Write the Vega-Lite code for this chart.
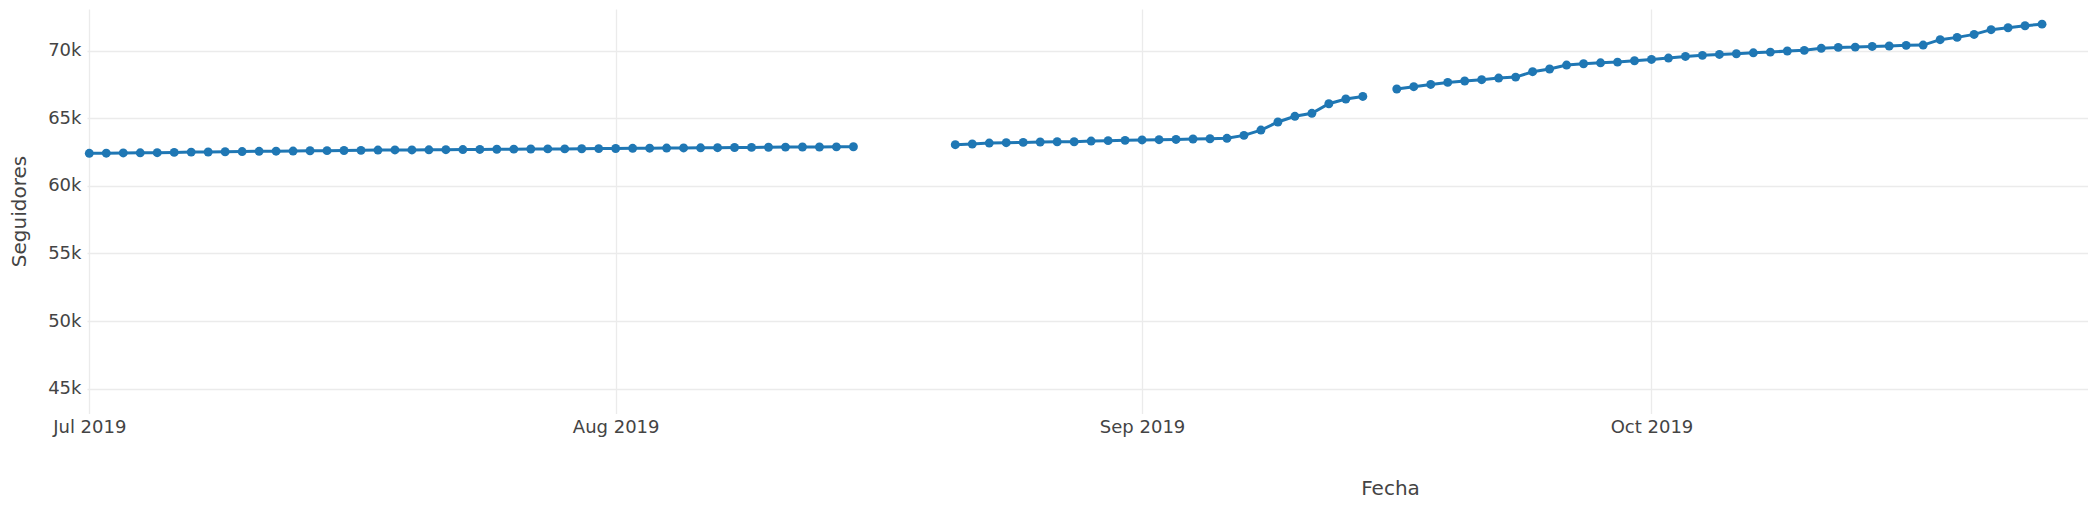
{
  "$schema": "https://vega.github.io/schema/vega-lite/v6.json",
  "autosize": {"type": "none"},
  "padding": {"left": 87, "top": 9, "right": 0, "bottom": 99.5},
  "width": 2001,
  "height": 404.5,
  "background": "white",
  "config": {
    "view": {"stroke": null},
    "axis": {
      "labelFont": "DejaVu Sans",
      "titleFont": "DejaVu Sans",
      "labelFontSize": 18,
      "titleFontSize": 20,
      "labelColor": "#444444",
      "titleColor": "#444444",
      "titleFontWeight": "normal",
      "domain": false,
      "ticks": false,
      "tickSize": 0,
      "grid": true,
      "gridColor": "#ebebeb",
      "gridWidth": 1.3
    }
  },
  "data": {
    "format": {"parse": {"fecha": "utc:'%Y-%m-%d'"}},
    "values": [
      {"fecha": "2019-07-01", "seguidores": 62410, "tramo": 1},
      {"fecha": "2019-07-02", "seguidores": 62420, "tramo": 1},
      {"fecha": "2019-07-03", "seguidores": 62440, "tramo": 1},
      {"fecha": "2019-07-04", "seguidores": 62450, "tramo": 1},
      {"fecha": "2019-07-05", "seguidores": 62460, "tramo": 1},
      {"fecha": "2019-07-06", "seguidores": 62480, "tramo": 1},
      {"fecha": "2019-07-07", "seguidores": 62500, "tramo": 1},
      {"fecha": "2019-07-08", "seguidores": 62510, "tramo": 1},
      {"fecha": "2019-07-09", "seguidores": 62530, "tramo": 1},
      {"fecha": "2019-07-10", "seguidores": 62540, "tramo": 1},
      {"fecha": "2019-07-11", "seguidores": 62560, "tramo": 1},
      {"fecha": "2019-07-12", "seguidores": 62570, "tramo": 1},
      {"fecha": "2019-07-13", "seguidores": 62580, "tramo": 1},
      {"fecha": "2019-07-14", "seguidores": 62600, "tramo": 1},
      {"fecha": "2019-07-15", "seguidores": 62610, "tramo": 1},
      {"fecha": "2019-07-16", "seguidores": 62620, "tramo": 1},
      {"fecha": "2019-07-17", "seguidores": 62630, "tramo": 1},
      {"fecha": "2019-07-18", "seguidores": 62650, "tramo": 1},
      {"fecha": "2019-07-19", "seguidores": 62660, "tramo": 1},
      {"fecha": "2019-07-20", "seguidores": 62660, "tramo": 1},
      {"fecha": "2019-07-21", "seguidores": 62670, "tramo": 1},
      {"fecha": "2019-07-22", "seguidores": 62680, "tramo": 1},
      {"fecha": "2019-07-23", "seguidores": 62690, "tramo": 1},
      {"fecha": "2019-07-24", "seguidores": 62700, "tramo": 1},
      {"fecha": "2019-07-25", "seguidores": 62710, "tramo": 1},
      {"fecha": "2019-07-26", "seguidores": 62720, "tramo": 1},
      {"fecha": "2019-07-27", "seguidores": 62730, "tramo": 1},
      {"fecha": "2019-07-28", "seguidores": 62740, "tramo": 1},
      {"fecha": "2019-07-29", "seguidores": 62740, "tramo": 1},
      {"fecha": "2019-07-30", "seguidores": 62750, "tramo": 1},
      {"fecha": "2019-07-31", "seguidores": 62760, "tramo": 1},
      {"fecha": "2019-08-01", "seguidores": 62770, "tramo": 1},
      {"fecha": "2019-08-02", "seguidores": 62780, "tramo": 1},
      {"fecha": "2019-08-03", "seguidores": 62790, "tramo": 1},
      {"fecha": "2019-08-04", "seguidores": 62800, "tramo": 1},
      {"fecha": "2019-08-05", "seguidores": 62810, "tramo": 1},
      {"fecha": "2019-08-06", "seguidores": 62820, "tramo": 1},
      {"fecha": "2019-08-07", "seguidores": 62830, "tramo": 1},
      {"fecha": "2019-08-08", "seguidores": 62840, "tramo": 1},
      {"fecha": "2019-08-09", "seguidores": 62850, "tramo": 1},
      {"fecha": "2019-08-10", "seguidores": 62860, "tramo": 1},
      {"fecha": "2019-08-11", "seguidores": 62870, "tramo": 1},
      {"fecha": "2019-08-12", "seguidores": 62880, "tramo": 1},
      {"fecha": "2019-08-13", "seguidores": 62880, "tramo": 1},
      {"fecha": "2019-08-14", "seguidores": 62890, "tramo": 1},
      {"fecha": "2019-08-15", "seguidores": 62900, "tramo": 1},
      {"fecha": "2019-08-21", "seguidores": 63050, "tramo": 2},
      {"fecha": "2019-08-22", "seguidores": 63100, "tramo": 2},
      {"fecha": "2019-08-23", "seguidores": 63170, "tramo": 2},
      {"fecha": "2019-08-24", "seguidores": 63200, "tramo": 2},
      {"fecha": "2019-08-25", "seguidores": 63220, "tramo": 2},
      {"fecha": "2019-08-26", "seguidores": 63250, "tramo": 2},
      {"fecha": "2019-08-27", "seguidores": 63270, "tramo": 2},
      {"fecha": "2019-08-28", "seguidores": 63270, "tramo": 2},
      {"fecha": "2019-08-29", "seguidores": 63320, "tramo": 2},
      {"fecha": "2019-08-30", "seguidores": 63350, "tramo": 2},
      {"fecha": "2019-08-31", "seguidores": 63370, "tramo": 2},
      {"fecha": "2019-09-01", "seguidores": 63400, "tramo": 2},
      {"fecha": "2019-09-02", "seguidores": 63420, "tramo": 2},
      {"fecha": "2019-09-03", "seguidores": 63440, "tramo": 2},
      {"fecha": "2019-09-04", "seguidores": 63470, "tramo": 2},
      {"fecha": "2019-09-05", "seguidores": 63490, "tramo": 2},
      {"fecha": "2019-09-06", "seguidores": 63520, "tramo": 2},
      {"fecha": "2019-09-07", "seguidores": 63740, "tramo": 2},
      {"fecha": "2019-09-08", "seguidores": 64130, "tramo": 2},
      {"fecha": "2019-09-09", "seguidores": 64730, "tramo": 2},
      {"fecha": "2019-09-10", "seguidores": 65150, "tramo": 2},
      {"fecha": "2019-09-11", "seguidores": 65370, "tramo": 2},
      {"fecha": "2019-09-12", "seguidores": 66080, "tramo": 2},
      {"fecha": "2019-09-13", "seguidores": 66430, "tramo": 2},
      {"fecha": "2019-09-14", "seguidores": 66620, "tramo": 2},
      {"fecha": "2019-09-16", "seguidores": 67170, "tramo": 3},
      {"fecha": "2019-09-17", "seguidores": 67340, "tramo": 3},
      {"fecha": "2019-09-18", "seguidores": 67510, "tramo": 3},
      {"fecha": "2019-09-19", "seguidores": 67660, "tramo": 3},
      {"fecha": "2019-09-20", "seguidores": 67760, "tramo": 3},
      {"fecha": "2019-09-21", "seguidores": 67860, "tramo": 3},
      {"fecha": "2019-09-22", "seguidores": 67980, "tramo": 3},
      {"fecha": "2019-09-23", "seguidores": 68050, "tramo": 3},
      {"fecha": "2019-09-24", "seguidores": 68450, "tramo": 3},
      {"fecha": "2019-09-25", "seguidores": 68650, "tramo": 3},
      {"fecha": "2019-09-26", "seguidores": 68940, "tramo": 3},
      {"fecha": "2019-09-27", "seguidores": 69040, "tramo": 3},
      {"fecha": "2019-09-28", "seguidores": 69110, "tramo": 3},
      {"fecha": "2019-09-29", "seguidores": 69160, "tramo": 3},
      {"fecha": "2019-09-30", "seguidores": 69260, "tramo": 3},
      {"fecha": "2019-10-01", "seguidores": 69360, "tramo": 3},
      {"fecha": "2019-10-02", "seguidores": 69460, "tramo": 3},
      {"fecha": "2019-10-03", "seguidores": 69580, "tramo": 3},
      {"fecha": "2019-10-04", "seguidores": 69660, "tramo": 3},
      {"fecha": "2019-10-05", "seguidores": 69730, "tramo": 3},
      {"fecha": "2019-10-06", "seguidores": 69780, "tramo": 3},
      {"fecha": "2019-10-07", "seguidores": 69850, "tramo": 3},
      {"fecha": "2019-10-08", "seguidores": 69900, "tramo": 3},
      {"fecha": "2019-10-09", "seguidores": 69980, "tramo": 3},
      {"fecha": "2019-10-10", "seguidores": 70030, "tramo": 3},
      {"fecha": "2019-10-11", "seguidores": 70180, "tramo": 3},
      {"fecha": "2019-10-12", "seguidores": 70250, "tramo": 3},
      {"fecha": "2019-10-13", "seguidores": 70270, "tramo": 3},
      {"fecha": "2019-10-14", "seguidores": 70320, "tramo": 3},
      {"fecha": "2019-10-15", "seguidores": 70350, "tramo": 3},
      {"fecha": "2019-10-16", "seguidores": 70400, "tramo": 3},
      {"fecha": "2019-10-17", "seguidores": 70420, "tramo": 3},
      {"fecha": "2019-10-18", "seguidores": 70820, "tramo": 3},
      {"fecha": "2019-10-19", "seguidores": 70990, "tramo": 3},
      {"fecha": "2019-10-20", "seguidores": 71210, "tramo": 3},
      {"fecha": "2019-10-21", "seguidores": 71560, "tramo": 3},
      {"fecha": "2019-10-22", "seguidores": 71700, "tramo": 3},
      {"fecha": "2019-10-23", "seguidores": 71850, "tramo": 3},
      {"fecha": "2019-10-24", "seguidores": 71970, "tramo": 3}
    ]
  },
  "encoding": {
    "x": {
      "field": "fecha",
      "type": "temporal",
      "title": "Fecha",
      "scale": {
        "type": "utc",
        "domain": [
          {"year": 2019, "month": 6, "date": 30, "hours": 20, "minutes": 45, "utc": true},
          {"year": 2019, "month": 10, "date": 26, "hours": 17, "utc": true}
        ]
      },
      "axis": {
        "values": [
          {"year": 2019, "month": 7, "date": 1, "utc": true},
          {"year": 2019, "month": 8, "date": 1, "utc": true},
          {"year": 2019, "month": 9, "date": 1, "utc": true},
          {"year": 2019, "month": 10, "date": 1, "utc": true}
        ],
        "labelExpr": "utcFormat(datum.value, '%b %Y')",
        "labelPadding": 5,
        "labelFlush": false,
        "labelOverlap": false,
        "titleX": 1303,
        "titleY": 81,
        "titleAlign": "center",
        "titleAnchor": null,
        "titleBaseline": "alphabetic"
      }
    },
    "y": {
      "field": "seguidores",
      "type": "quantitative",
      "title": "Seguidores",
      "scale": {"domain": [43160, 73090], "nice": false, "zero": false},
      "axis": {
        "values": [45000, 50000, 55000, 60000, 65000, 70000],
        "labelExpr": "(datum.value / 1000) + 'k'",
        "labelPadding": 6,
        "titleX": -62,
        "titleY": 202,
        "titleAlign": "center",
        "titleAngle": -90,
        "titleBaseline": "alphabetic"
      }
    }
  },
  "layer": [
    {
      "mark": {"type": "line", "color": "#1f77b4", "strokeWidth": 3},
      "encoding": {"detail": {"field": "tramo", "type": "nominal"}}
    },
    {
      "mark": {"type": "point", "filled": true, "color": "#1f77b4", "opacity": 1, "size": 80}
    }
  ]
}
